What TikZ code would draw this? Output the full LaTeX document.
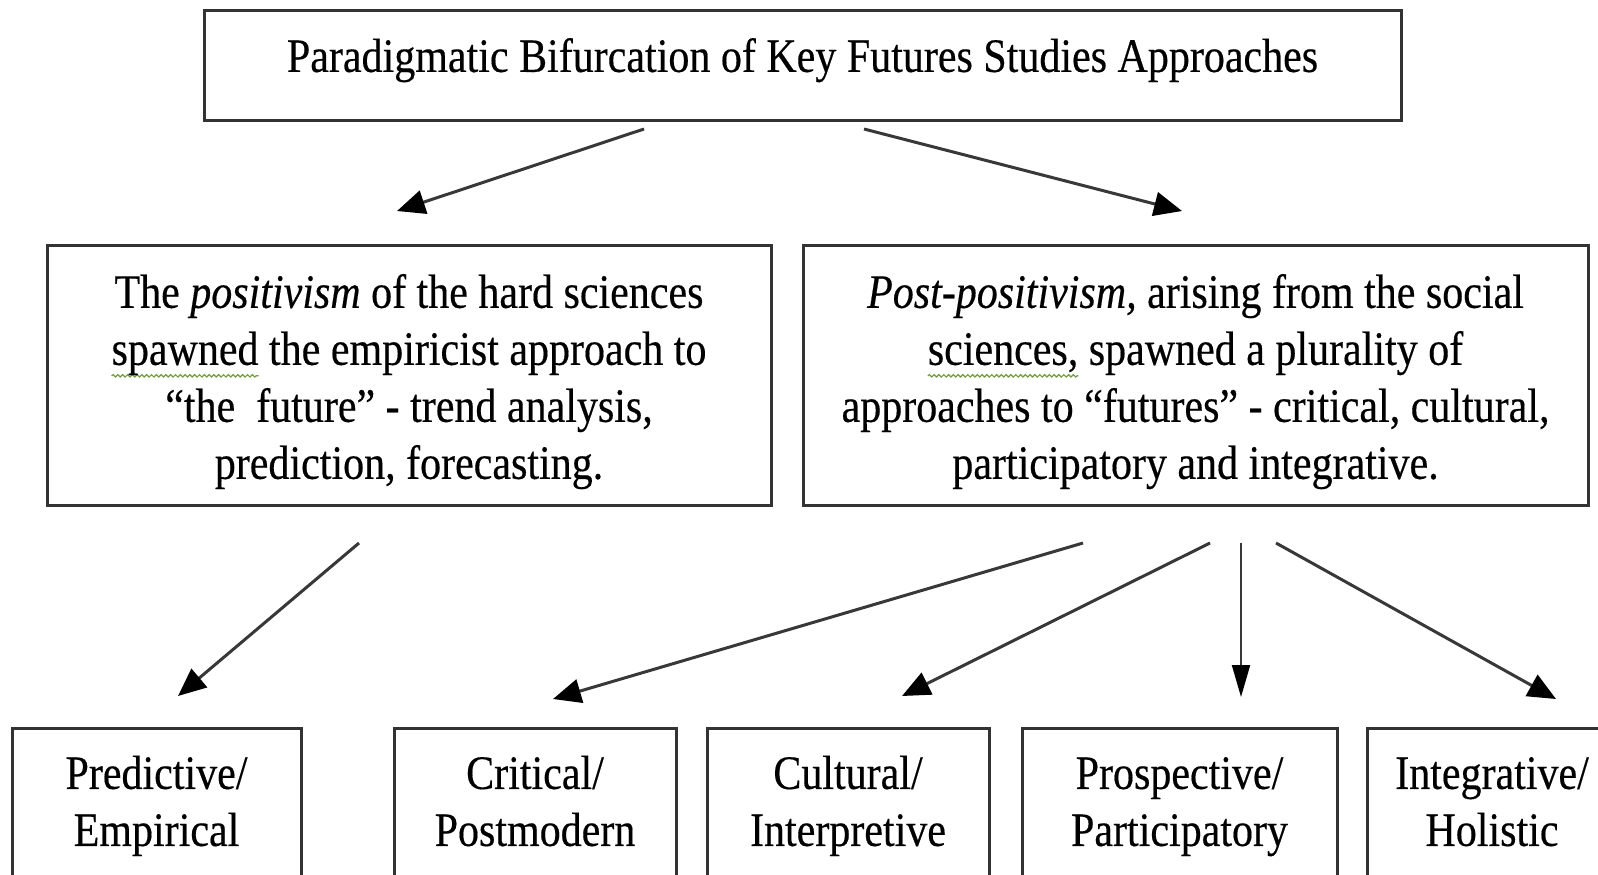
\documentclass[tikz,border=0pt]{standalone}
\usepackage{fontspec}
\setmainfont[FakeStretch=0.875,FakeBold=0.35]{Liberation Serif}
\usetikzlibrary{arrows.meta,decorations.pathmorphing}
\definecolor{boxline}{HTML}{333333}
\definecolor{arrowline}{HTML}{383838}
\definecolor{squig}{HTML}{6FA03C}
\newsavebox\squigbox
\newcommand\greensquig[1]{\sbox\squigbox{#1}\rlap{\tikz[baseline=0pt,overlay]\draw[squig,line width=0.6pt,decorate,decoration={snake,amplitude=0.6pt,segment length=2.4pt}] (0pt,-5.5pt) -- (\wd\squigbox,-5.5pt);}#1}
\newcommand\topstrut{\rule{0pt}{23.5pt}}
\newcommand\twoline[2]{\strut #1\strut\\\strut #2\strut}
\begin{document}
\begin{tikzpicture}[x=0.5pt,y=-0.5pt,
  box/.style={draw=boxline,line width=1.5pt,inner sep=0pt,align=center,
    font=\fontsize{24pt}{28.5pt}\selectfont,text=black},
  arr/.style={draw=arrowline,line width=1.5pt,-{Triangle[length=14pt,width=12pt,color=black]}},
  varr/.style={draw=arrowline,line width=1pt,-{Triangle[length=16pt,width=9pt,color=black]}}]
\useasboundingbox (0,0) rectangle (1598,874);
\clip (0,0) rectangle (1598,874);
% boxes
\node[box,minimum width=598.5pt,minimum height=55pt] (title) at (802.5,65)
  {\raisebox{10pt}{Paradigmatic Bifurcation of Key Futures Studies Approaches}};
\node[box,minimum width=362pt,minimum height=130pt] (pos) at (409,375)
  {\topstrut The \textit{positivism} of the hard sciences\\
   \greensquig{spawned} the empiricist approach to\\
   ``the\ \ future'' - trend analysis,\\
   prediction, forecasting.};
\node[box,minimum width=392.5pt,minimum height=130pt] (post) at (1195.5,375)
  {\topstrut\textit{Post-positivism,} arising from the social\\
   \greensquig{sciences,} spawned a plurality of\\
   approaches to ``futures'' - critical, cultural,\\
   participatory and integrative.};
\node[box,minimum width=144.5pt,minimum height=78pt] (pred) at (156.5,806) {\twoline{Predictive/}{Empirical}};
\node[box,minimum width=141pt,minimum height=78pt] (crit) at (535,806) {\twoline{Critical/}{Postmodern}};
\node[box,minimum width=141pt,minimum height=78pt] (cult) at (848,806) {\twoline{Cultural/}{Interpretive}};
\node[box,minimum width=157.5pt,minimum height=78pt] (prosp) at (1179.5,806) {\twoline{Prospective/}{Participatory}};
\node[box,minimum width=125pt,minimum height=78pt] (integ) at (1492,806) {\twoline{Integrative/}{Holistic}};
% arrow ends
\coordinate (a1s) at (644,129); \coordinate (a1e) at (397,211);
\coordinate (a2s) at (864,129); \coordinate (a2e) at (1182,211);
\coordinate (a3s) at (359,543); \coordinate (a3e) at (178,696);
\coordinate (a4s) at (1083,543); \coordinate (a4e) at (553,699);
\coordinate (a5s) at (1210,543); \coordinate (a5e) at (902,696);
\coordinate (a6s) at (1241,543); \coordinate (a6e) at (1241,697);
\coordinate (a7s) at (1276,543); \coordinate (a7e) at (1556,699);
\draw[arr] (a1s) -- (a1e);
\draw[arr] (a2s) -- (a2e);
\draw[arr] (a3s) -- (a3e);
\draw[arr] (a4s) -- (a4e);
\draw[arr] (a5s) -- (a5e);
\draw[varr] (a6s) -- (a6e);
\draw[arr] (a7s) -- (a7e);
\end{tikzpicture}
\end{document}
